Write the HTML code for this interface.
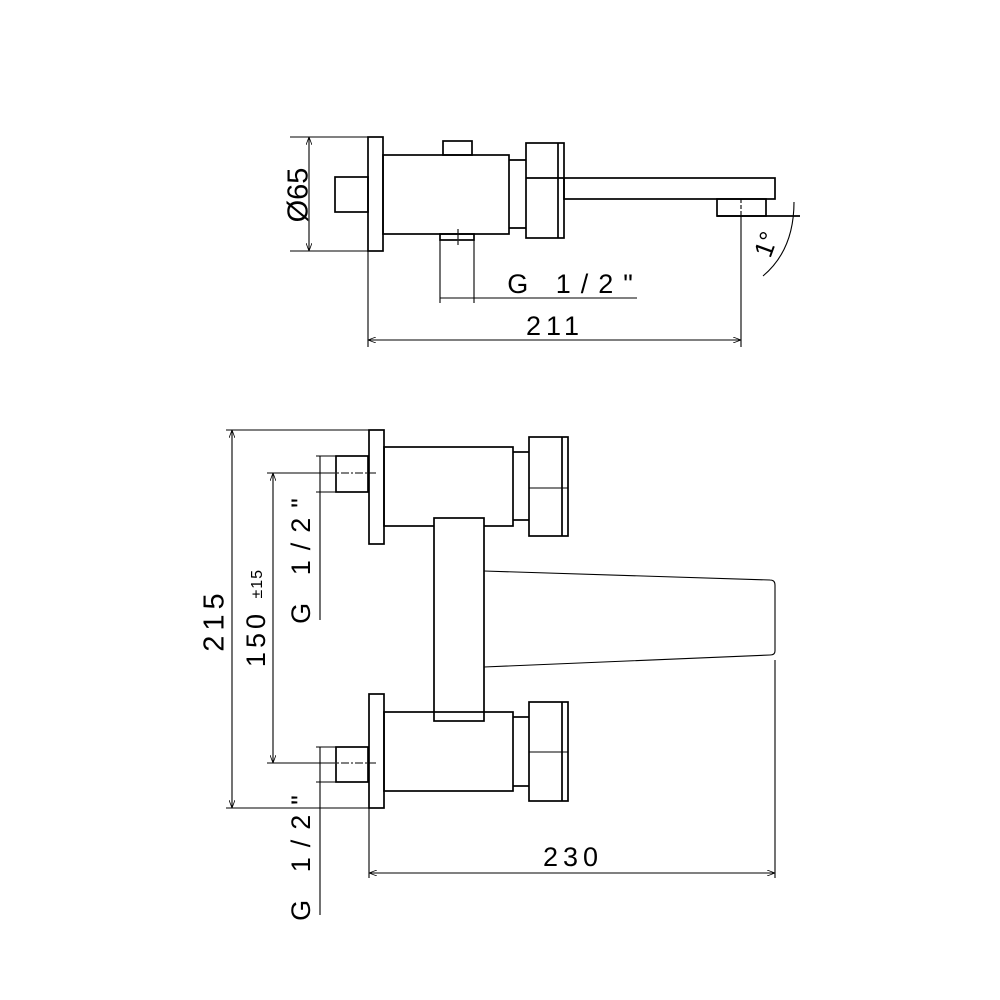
<!DOCTYPE html>
<html><head><meta charset="utf-8"><style>
html,body{margin:0;padding:0;background:#fff;}
svg{display:block}
text{font-family:"Liberation Sans",sans-serif;fill:#000}
</style></head><body>
<svg width="1000" height="1000" viewBox="0 0 1000 1000" xmlns="http://www.w3.org/2000/svg">
<defs>
<marker id="a" markerWidth="8" markerHeight="6" refX="8" refY="3" orient="auto-start-reverse" markerUnits="userSpaceOnUse"><path d="M0,0 L8,3 L0,6" fill="none" stroke="#000" stroke-width="0.8"/></marker>
</defs>
<g fill="none" stroke="#000" stroke-width="1.7">
<!-- TOP VIEW -->
<rect x="368" y="137" width="15" height="114"/>
<rect x="335" y="177" width="33" height="35"/>
<rect x="383" y="155" width="126" height="79"/>
<rect x="443" y="141" width="29" height="14"/>
<rect x="440" y="234" width="34" height="6"/>
<line x1="509" y1="160" x2="526" y2="160"/>
<line x1="509" y1="228" x2="526" y2="228"/>
<rect x="526" y="143" width="38" height="95"/>
<line x1="558" y1="143" x2="558" y2="238"/>
<line x1="526" y1="178" x2="564" y2="178"/>
<rect x="564" y="178" width="211" height="21"/>
<rect x="717" y="199" width="49" height="17"/>
<line x1="717" y1="216" x2="800" y2="216"/>
</g>
<g fill="none" stroke="#000" stroke-width="1.1">
<line x1="458" y1="229" x2="458" y2="245" stroke-dasharray="4,2"/>
<line x1="741" y1="199" x2="741" y2="216" stroke-dasharray="4,2"/>
<line x1="741" y1="216" x2="741" y2="347"/>
<line x1="440" y1="240" x2="440" y2="303"/>
<line x1="474" y1="240" x2="474" y2="303"/>
<line x1="440" y1="298" x2="637" y2="298"/>
<line x1="290" y1="137" x2="368" y2="137"/>
<line x1="290" y1="251" x2="368" y2="251"/>
<line x1="309" y1="137" x2="309" y2="251" marker-start="url(#a)" marker-end="url(#a)"/>
<line x1="368" y1="251" x2="368" y2="347"/>
<line x1="368" y1="340" x2="741" y2="340" marker-start="url(#a)" marker-end="url(#a)"/>
<path d="M794,202 Q794,250 763,276"/>
<!-- BOTTOM VIEW -->
<line x1="226" y1="430" x2="369" y2="430"/>
<line x1="226" y1="808" x2="369" y2="808"/>
<line x1="232" y1="430" x2="232" y2="808" marker-start="url(#a)" marker-end="url(#a)"/>
<line x1="267" y1="473" x2="330" y2="473"/>
<line x1="267" y1="763" x2="330" y2="763"/>
<line x1="273" y1="473" x2="273" y2="763" marker-start="url(#a)" marker-end="url(#a)"/>
<line x1="316" y1="456" x2="336" y2="456"/>
<line x1="316" y1="492" x2="336" y2="492"/>
<line x1="320" y1="456" x2="320" y2="620"/>
<line x1="316" y1="747" x2="336" y2="747"/>
<line x1="316" y1="782" x2="336" y2="782"/>
<line x1="320" y1="747" x2="320" y2="915"/>
<line x1="327" y1="473" x2="376" y2="473" stroke-dasharray="8,2,2,2"/>
<line x1="327" y1="763" x2="376" y2="763" stroke-dasharray="8,2,2,2"/>
<line x1="369" y1="808" x2="369" y2="878"/>
<line x1="775" y1="660" x2="775" y2="878"/>
<line x1="369" y1="873" x2="775" y2="873" marker-start="url(#a)" marker-end="url(#a)"/>
<line x1="439" y1="620" x2="479" y2="620"/>
<line x1="459" y1="600" x2="459" y2="640"/>
<circle cx="459" cy="620" r="15"/>
<path d="M484,571 L770,580 Q775,580 775,585 L775,651 Q775,655 770,655 L484,667"/>
</g>
<g fill="none" stroke="#000" stroke-width="1.7">
<rect x="369" y="430" width="15" height="114"/>
<rect x="384" y="447" width="129" height="79"/>
<line x1="513" y1="452" x2="529" y2="452"/>
<line x1="513" y1="520" x2="529" y2="520"/>
<rect x="529" y="437" width="39" height="99"/>
<line x1="562" y1="437" x2="562" y2="536"/>
<line x1="529" y1="488" x2="568" y2="488" stroke-width="1"/>
<rect x="336" y="456" width="32" height="36"/>
<rect x="434" y="518" width="50" height="203" fill="#fff"/>
<rect x="369" y="694" width="15" height="114"/>
<rect x="384" y="712" width="129" height="79"/>
<line x1="513" y1="717" x2="529" y2="717"/>
<line x1="513" y1="786" x2="529" y2="786"/>
<rect x="529" y="702" width="39" height="99"/>
<line x1="562" y1="702" x2="562" y2="801"/>
<line x1="529" y1="752" x2="568" y2="752" stroke-width="1"/>
<rect x="336" y="747" width="32" height="35"/>
</g>
<!-- TEXT -->
<text x="300" y="195" font-size="29" text-anchor="middle" transform="rotate(-90 300 195)" dominant-baseline="middle">Ø65</text>
<text x="575" y="293" font-size="27" text-anchor="middle" letter-spacing="10">G 1/2"</text>
<text x="555" y="335" font-size="27" text-anchor="middle" letter-spacing="5">211</text>
<text x="768" y="245" font-size="26" text-anchor="middle" transform="rotate(-70 768 245)" dominant-baseline="middle">1°</text>
<text x="573" y="866" font-size="27" text-anchor="middle" letter-spacing="5">230</text>
<text x="216" y="620" font-size="29" text-anchor="middle" letter-spacing="5" transform="rotate(-90 216 620)" dominant-baseline="middle">215</text>
<text x="258" y="618" font-size="27" text-anchor="middle" letter-spacing="4" transform="rotate(-90 258 618)" dominant-baseline="middle">150 <tspan font-size="16" letter-spacing="1">±15</tspan></text>
<text x="303" y="556" font-size="27" text-anchor="middle" letter-spacing="10" transform="rotate(-90 303 556)" dominant-baseline="middle">G 1/2"</text>
<text x="303" y="853" font-size="27" text-anchor="middle" letter-spacing="10" transform="rotate(-90 303 853)" dominant-baseline="middle">G 1/2"</text>
</svg>
</body></html>
